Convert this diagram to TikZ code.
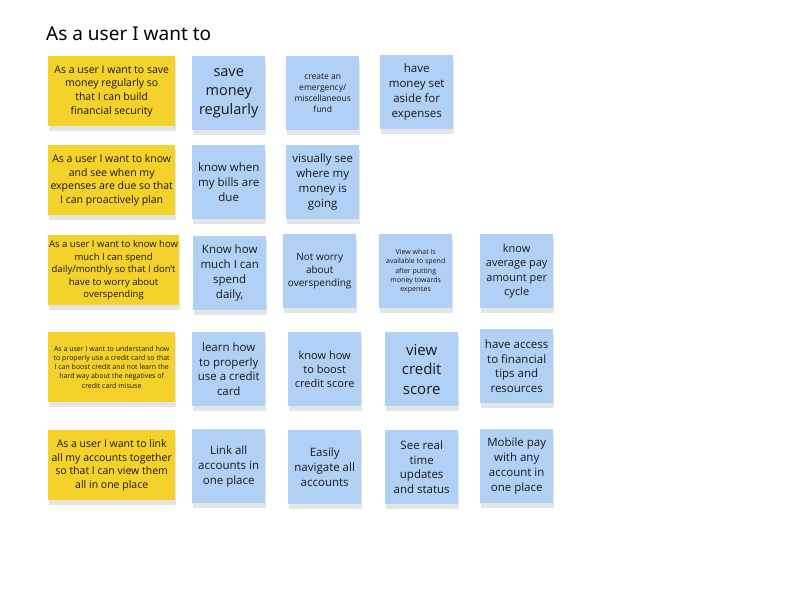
\documentclass[tikz,border=0pt]{standalone}
\usepackage{fontspec}
\setmainfont{Open Sans}
\newfontfamily\titlefont{Noto Sans}
\definecolor{ylw}{HTML}{F5D12B}
\definecolor{blu}{HTML}{B0D0F5}
\newcommand{\fs}[1]{\fontsize{#1pt}{\the\dimexpr #1pt*13/10\relax}\selectfont}
\tikzset{
  note/.style={anchor=north west, inner sep=1pt, align=center, text=black!90,
    minimum width=73pt, minimum height=74pt,
    preaction={fill=black, opacity=0.10, transform canvas={yshift=-5pt,xshift=1pt}}},
  ynote/.style={note, fill=ylw, minimum width=127pt, minimum height=70pt},
  bnote/.style={note, fill=blu},
}
\begin{document}
\begin{tikzpicture}[x=1pt,y=-1pt]
\useasboundingbox (0,0) rectangle (800,609);
\fill[white] (0,0) rectangle (800,609);
\node[anchor=west,inner sep=0,font=\titlefont\fontsize{19pt}{22pt}\selectfont] (title) at (46,34) {As a user I want to};
% row 1
\node[ynote,font=\fs{10.5}] (y1) at (48,56) {As a user I want to save\\money regularly so\\that I can build\\financial security};
\node[bnote,font=\fs{14.5}] (b11) at (192,56) {save\\money\\regularly};
\node[bnote,font=\fs{8.5}] (b12) at (286,56) {create an\\emergency/\\miscellaneous\\fund};
\node[bnote,font=\fs{11.5}] (b13) at (380,55) {have\\money set\\aside for\\expenses};
% row 2
\node[ynote,font=\fs{10.5}] (y2) at (48,145) {As a user I want to know\\and see when my\\expenses are due so that\\I can proactively plan};
\node[bnote,font=\fs{11.5}] (b21) at (192,145) {know when\\my bills are\\due};
\node[bnote,font=\fs{11.5}] (b22) at (286,145) {visually see\\where my\\money is\\going};
% row 3
\node[ynote,font=\fs{9.5}] (y3) at (48,235) {As a user I want to know how\\much I can spend\\daily/monthly so that I don't\\have to worry about\\overspending};
\node[bnote,font=\fs{11.5}] (b31) at (193,236) {Know how\\much I can\\spend\\daily,};
\node[bnote,font=\fs{10}] (b32) at (283,234) {Not worry\\about\\overspending};
\node[bnote,font=\fs{7}] (b33) at (379,234) {View what is\\available to spend\\after putting\\money towards\\expenses};
\node[bnote,font=\fs{11}] (b34) at (480,234) {know\\average pay\\amount per\\cycle};
% row 4
\node[ynote,font=\fs{7}] (y4) at (48,332) {As a user I want to understand how\\to properly use a credit card so that\\I can boost credit and not learn the\\hard way about the negatives of\\credit card misuse};
\node[bnote,font=\fs{11.5}] (b41) at (192,332) {learn how\\to properly\\use a credit\\card};
\node[bnote,font=\fs{11}] (b42) at (288,332) {know how\\to boost\\credit score};
\node[bnote,font=\fs{15}] (b43) at (385,332) {view\\credit\\score};
\node[bnote,font=\fs{11.5}] (b44) at (480,329) {have access\\to financial\\tips and\\resources};
% row 5
\node[ynote,font=\fs{10.5}] (y5) at (48,430) {As a user I want to link\\all my accounts together\\so that I can view them\\all in one place};
\node[bnote,font=\fs{11.5}] (b51) at (192,429) {Link all\\accounts in\\one place};
\node[bnote,font=\fs{11.5}] (b52) at (288,430) {Easily\\navigate all\\accounts};
\node[bnote,font=\fs{11.5}] (b53) at (385,430) {See real\\time\\updates\\and status};
\node[bnote,font=\fs{11.5}] (b54) at (480,429) {Mobile pay\\with any\\account in\\one place};
\end{tikzpicture}
\end{document}
